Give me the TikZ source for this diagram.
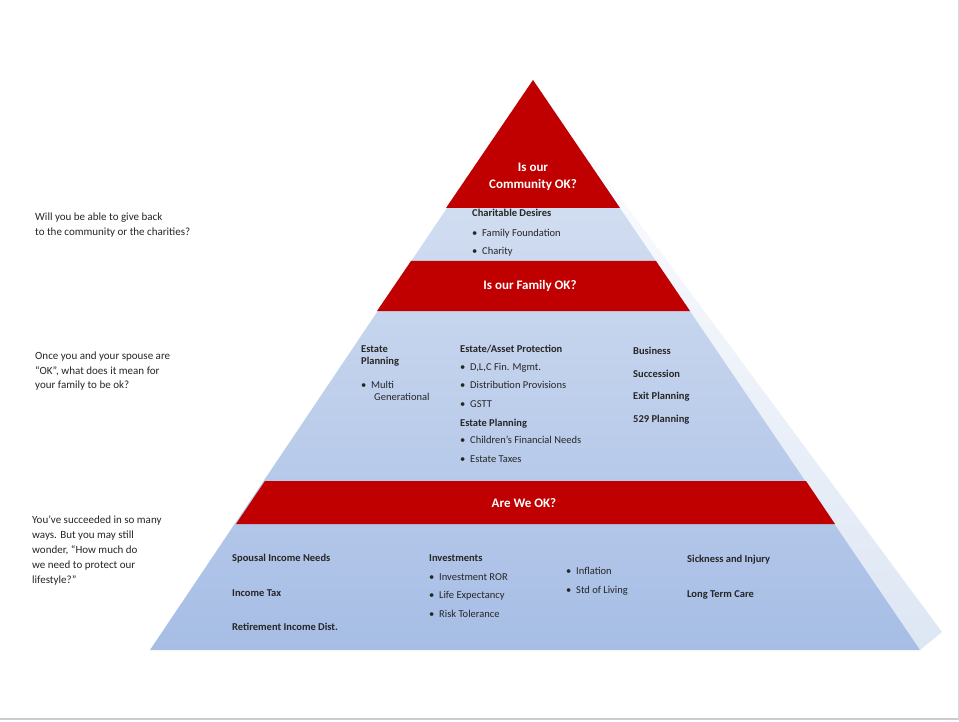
\documentclass[tikz,border=0pt]{standalone}
\usepackage{fontspec}
\setmainfont{Carlito}
\definecolor{redband}{HTML}{C00000}
\definecolor{pyrtop}{HTML}{DDE6F4}
\definecolor{pyrbot}{HTML}{A6BDE5}
\begin{document}
\begin{tikzpicture}[x=1pt,y=-1pt,
  txt/.style={anchor=north west,inner sep=0pt,font=\fontsize{10.5}{12.5}\selectfont,text=black!85,align=left},
  hd/.style={txt,font=\fontsize{10.5}{12.5}\selectfont\bfseries},
  side/.style={anchor=north west,inner sep=0pt,font=\fontsize{11}{14.5}\selectfont,text=black!85,align=left},
  ttl/.style={inner sep=0pt,text=white,font=\fontsize{13}{17}\selectfont\bfseries,align=center},
  bl/.style={txt}]
\useasboundingbox (0,0) rectangle (959,722);
\fill[white] (0,0) rectangle (959,722);
\draw[gray!40,line width=2pt] (0,719) -- (959,719);
\draw[gray!30,line width=1pt] (958,0) -- (958,719);
% side face
\shade[top color=white,bottom color=pyrtop] (533,80) -- (942,632) -- (920,650) -- cycle;
% pyramid
\shade[top color=pyrtop,bottom color=pyrbot] (533,80) -- (920,650) -- (150,650) -- cycle;
% red bands
\fill[redband] (533,80) -- (620,208) -- (446,208) -- cycle;
\fill[redband] (411,261) -- (656,261) -- (690,311) -- (377,311) -- cycle;
\fill[redband] (265,481) -- (806,481) -- (835,524) -- (236,524) -- cycle;
\node[ttl] (t1) at (533,177) {Is our\\Community OK?};
\node[ttl] (t2) at (530,286) {Is our Family OK?};
\node[ttl] (t3) at (524,503) {Are We OK?};
% left texts
\node[side] (l1) at (35,213) {Will you be able to give back\\to the community or the charities?};
\node[side] (l2) at (35,352) {Once you and your spouse are\\“OK”, what does it mean for\\your family to be ok?};
\node[side,font=\fontsize{11}{15}\selectfont] (l3) at (32,516) {You’ve succeeded in so many\\ways. But you may still\\wonder, “How much do\\we need to protect our\\lifestyle?”};
% top
\node[hd] (cd) at (472,209) {Charitable Desires};
\node[bl] (c1) at (472,229) {•\ \ Family Foundation};
\node[bl] (c2) at (472,247) {•\ \ Charity};
% middle
\node[hd] (ep) at (361,345) {Estate\\Planning};
\node[bl] (mg) at (361,381) {•\ \ Multi\\\hspace*{13pt}Generational};
\node[hd] (eap) at (460,345) {Estate/Asset Protection};
\node[bl] (m1) at (460,363) {•\ \ D,L,C Fin. Mgmt.};
\node[bl] (m2) at (460,381) {•\ \ Distribution Provisions};
\node[bl] (m3) at (460,400) {•\ \ GSTT};
\node[hd] (ep2) at (460,419) {Estate Planning};
\node[bl] (m4) at (460,436) {•\ \ Children’s Financial Needs};
\node[bl] (m5) at (460,456) {•\ \ Estate Taxes};
\node[hd] (b1) at (633,347) {Business};
\node[hd] (b2) at (633,370) {Succession};
\node[hd] (b3) at (633,392) {Exit Planning};
\node[hd] (b4) at (633,415) {529 Planning};
% bottom
\node[hd] (s1) at (232,554) {Spousal Income Needs};
\node[hd] (s2) at (232,589) {Income Tax};
\node[hd] (s3) at (232,623) {Retirement Income Dist.};
\node[hd] (iv) at (429,554) {Investments};
\node[bl] (i1) at (429,573) {•\ \ Investment ROR};
\node[bl] (i2) at (429,591) {•\ \ Life Expectancy};
\node[bl] (i3) at (429,610) {•\ \ Risk Tolerance};
\node[bl] (i4) at (566,567) {•\ \ Inflation};
\node[bl] (i5) at (566,586) {•\ \ Std of Living};
\node[hd] (k1) at (687,555) {Sickness and Injury};
\node[hd] (k2) at (687,590) {Long Term Care};
\end{tikzpicture}
\end{document}
